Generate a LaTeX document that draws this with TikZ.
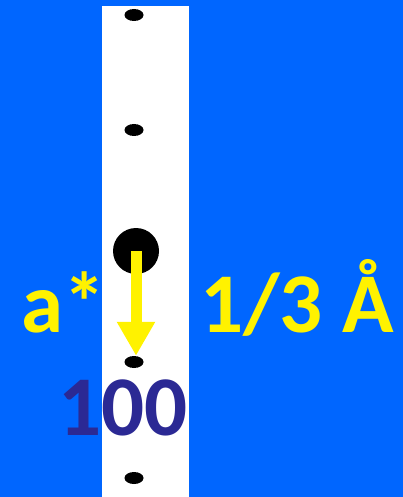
\documentclass[tikz,border=0pt]{standalone}
\usepackage{fontspec}
\setmainfont{Carlito}
\usetikzlibrary{arrows.meta,shapes.geometric}
\definecolor{bgblue}{RGB}{0,102,255}
\definecolor{idxblue}{RGB}{43,41,148}
\begin{document}
\begin{tikzpicture}[x=1pt, y=-1pt, line cap=round, line join=round, font=\fontsize{85}{85}\selectfont\bfseries]
	\tikzset{spot/.style={ellipse, fill=black, inner sep=0pt, minimum width=19pt, minimum height=12pt},
		lbl/.style={inner sep=0pt, anchor=base west, text=yellow}}
	\fill[bgblue] (0,0) rectangle (403,497);
	\useasboundingbox (0,0) rectangle (403,497);
	\fill[white] (102,6) rectangle (189,497);
	\node[spot] (d0) at (134,15) {};
	\node[spot] (d1) at (134,130) {};
	\node[spot] (d2) at (134,362) {};
	\node[spot] (d3) at (134,478) {};
	\node[circle, fill=black, inner sep=0pt, minimum size=46pt] (c0) at (136,251) {};
	\draw[yellow, line width=11pt, line cap=butt, -{Triangle[length=34pt,width=36pt]}] (c0.center) -- (c0.center |- d2.north);
	\node[lbl] (astar) at (21,332) {a*};
	\node[lbl] (len) at (200,332) {1/3 Å};
	\node[lbl, text=idxblue] (idx) at (58,435) {100};
\end{tikzpicture}
\end{document}
